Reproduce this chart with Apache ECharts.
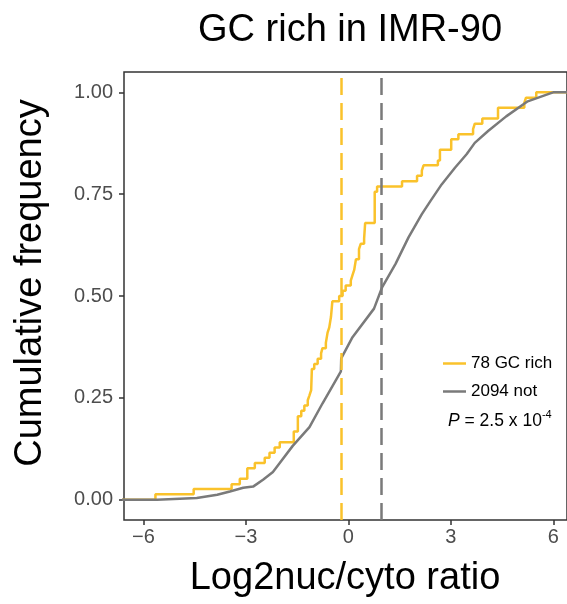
<!DOCTYPE html>
<html><head><meta charset="utf-8">
<script src="https://cdn.jsdelivr.net/npm/echarts@6/dist/echarts.min.js"></script>
<style>html,body{margin:0;padding:0;background:#fff}#c{width:567px;height:604px}</style>
</head><body><div id="c"></div>
<script>
// ---- data ----
const seriesNames = ['78 GC rich', '2094 not'];
// ECDF of the 78 GC-rich genes: jump positions and cumulative fraction after each jump
const richX = [-7.0, -5.65, -4.53, -3.42, -3.18, -2.96, -2.74, -2.45, -2.31, -2.16, -2.01, -1.60, -1.48, -1.38, -1.29, -1.19, -1.14, -1.09, -1.07, -1.00, -0.90, -0.80, -0.76, -0.66, -0.61, -0.56, -0.51, -0.47, -0.27, -0.17, -0.08, 0.07, 0.12, 0.17, 0.22, 0.31, 0.36, 0.46, 0.49, 0.77, 0.84, 1.57, 2.01, 2.15, 2.20, 2.62, 2.68, 3.01, 3.22, 3.65, 3.70, 3.92, 4.38, 5.15, 5.20, 5.50, 7.0];
const richY = [0, .013, .026, .038, .051, .077, .090, .103, .115, .128, .141, .167, .205, .218, .231, .244, .256, .269, .321, .333, .346, .359, .372, .385, .410, .423, .449, .487, .500, .513, .526, .538, .551, .564, .590, .615, .628, .641, .679, .756, .769, .782, .795, .808, .821, .833, .859, .885, .897, .910, .923, .936, .962, .974, .987, 1.0, 1.0];
// ECDF of the 2094 other genes (dense, drawn as a line)
const notX = [-7.0, -5.6, -4.44, -3.84, -3.47, -3.08, -2.79, -2.50, -2.21, -2.01, -1.63, -1.14, -0.76, -0.37, -0.22, -0.21, 0.12, 0.75, 0.99, 1.38, 1.76, 2.15, 2.40, 2.73, 3.12, 3.46, 3.70, 4.09, 4.62, 5.25, 5.93, 6.0, 7.0];
const notY = [0, 0, .004, .012, .020, .029, .032, .049, .068, .090, .132, .178, .236, .293, .315, .347, .399, .469, .522, .579, .644, .701, .733, .774, .815, .848, .876, .905, .941, .978, .998, 1.0, 1.0];
const medians = [-0.20, 0.97];
const xTicks = [-6, -3, 0, 3, 6];
const yTicks = [0, 0.25, 0.5, 0.75, 1];
const titleText = 'GC rich in IMR-90';
const xTitle = 'Log2nuc/cyto ratio';
const yTitle = 'Cumulative frequency';

// ---- styles ----
const YEL = '#FAC22B', GRY = '#7A7A7A';
const FF = 'Liberation Sans, Arial, sans-serif';
const zip = (xs, ys) => xs.map((x, i) => [x, ys[i]]);

const chart = echarts.init(document.getElementById('c'), null, {renderer: 'canvas'});
chart.setOption({
  backgroundColor: '#fff',
  animation: false,
  grid: {left: 124, top: 72, right: -3, bottom: 84, show: true, borderColor: '#333', borderWidth: 1.5, backgroundColor: '#fff'},
  xAxis: {
    type: 'value', min: -6.57, max: 6.40,
    axisLine: {show: false, onZero: false}, splitLine: {show: false},
    axisTick: {show: true, inside: false, length: 5, customValues: xTicks, lineStyle: {color: '#333', width: 1.5}},
    axisLabel: {customValues: xTicks, fontSize: 20, color: '#4D4D4D', fontFamily: FF, margin: 7,
      formatter: v => (v < 0 ? '\u2212' + Math.abs(v) : String(v))}
  },
  yAxis: {
    type: 'value', min: -0.05, max: 1.05,
    axisLine: {show: false, onZero: false}, splitLine: {show: false},
    axisTick: {show: true, inside: false, length: 5, customValues: yTicks, lineStyle: {color: '#333', width: 1.5}},
    axisLabel: {customValues: yTicks, fontSize: 20, color: '#4D4D4D', fontFamily: FF, margin: 11,
      formatter: v => v.toFixed(2)}
  },
  legend: {
    data: seriesNames, orient: 'vertical', left: 443, top: 355, padding: 0,
    itemWidth: 23, itemHeight: 2.5, itemGap: 11, icon: 'rect',
    textStyle: {fontSize: 17, color: '#000', fontFamily: FF, lineHeight: 17}
  },
  series: [
    {
      name: seriesNames[0], type: 'line', step: 'end', data: zip(richX, richY),
      showSymbol: false, symbol: 'none', color: YEL, z: 2,
      lineStyle: {color: YEL, width: 2.5},
      markLine: {silent: true, symbol: 'none', label: {show: false},
        lineStyle: {color: YEL, width: 2.5, type: [17, 8]}, data: [{xAxis: medians[0]}]}
    },
    {
      name: seriesNames[1], type: 'line', data: zip(notX, notY),
      showSymbol: false, symbol: 'none', color: GRY, z: 3,
      lineStyle: {color: GRY, width: 2.5},
      markLine: {silent: true, symbol: 'none', label: {show: false},
        lineStyle: {color: GRY, width: 2.5, type: [17, 8]}, data: [{xAxis: medians[1]}]}
    }
  ],
  graphic: [
    {type: 'text', x: 350, y: 31, style: {text: titleText, fontSize: 38, fontFamily: FF, fill: '#000', textAlign: 'center', textVerticalAlign: 'middle'}},
    {type: 'text', x: 345, y: 579, style: {text: xTitle, fontSize: 38, fontFamily: FF, fill: '#000', textAlign: 'center', textVerticalAlign: 'middle'}},
    {type: 'text', x: 31, y: 283, rotation: Math.PI / 2, style: {text: yTitle, fontSize: 38, fontFamily: FF, fill: '#000', textAlign: 'center', textVerticalAlign: 'middle'}},
    {type: 'text', x: 448, y: 421, style: {
      text: '{i|P}{n| = 2.5 x 10}{s|-4}', textVerticalAlign: 'middle', fill: '#000',
      rich: {
        i: {fontStyle: 'italic', fontSize: 17.5, fontFamily: FF, lineHeight: 23, fill: '#000'},
        n: {fontSize: 17.5, fontFamily: FF, lineHeight: 23, fill: '#000'},
        s: {fontSize: 11, fontFamily: FF, lineHeight: 11, verticalAlign: 'top', fill: '#000'}
      }}}
  ]
});
</script></body></html>
